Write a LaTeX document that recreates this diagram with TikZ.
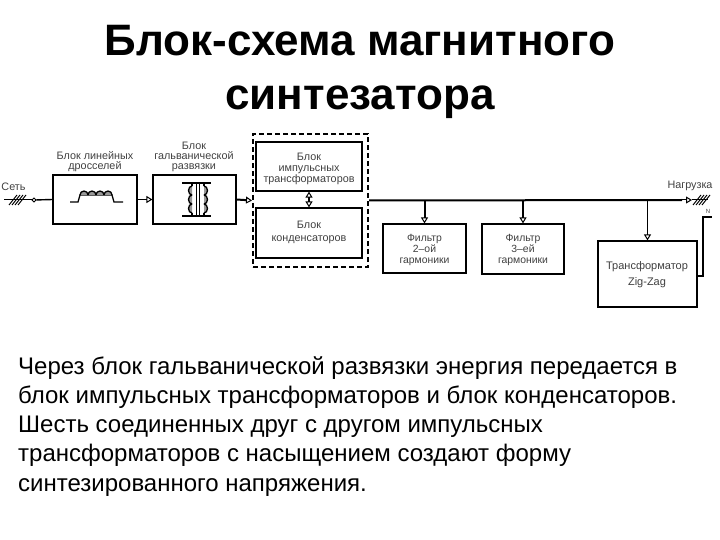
\documentclass[tikz,border=0pt]{standalone}
\usepackage{fontspec}
\setmainfont{Liberation Sans}
\usetikzlibrary{arrows.meta}
\tikzset{
  blockbox/.style={draw=black,line width=1.2pt,fill=white},
  labeltext/.style={font=\fontsize{10.8}{10}\selectfont,text=black!75,align=center,inner sep=0pt},
  thinwire/.style={draw=black,line width=1pt},
  thickwire/.style={draw=black,line width=2pt},
  opentip/.style={-{Triangle[open,length=6pt,width=7pt,line width=1pt]}},
  coilline/.style={draw=black,line width=1.3pt}
}
\begin{document}
\begin{tikzpicture}[x=1pt,y=-1pt]
      \useasboundingbox (0,0) rectangle (720,540);
      \fill[white] (0,0) rectangle (720,540);
      \node (title) [align=center,font=\fontsize{44}{54}\selectfont\bfseries,inner sep=0pt] at (360,72) {Блок-схема магнитного\\синтезатора};
      \node (body) [align=left,anchor=north west,font=\fontsize{24}{29.3}\selectfont,inner sep=0pt] at (18,356) {Через блок гальванической развязки энергия передается в\\блок импульсных трансформаторов и блок конденсаторов.\\Шесть соединенных друг с другом импульсных\\трансформаторов с насыщением создают форму\\синтезированного напряжения.};
      % blocks
      \node (choke) [blockbox,minimum width=84,minimum height=49] at (95,199.5) {};
      \node (galv) [blockbox,minimum width=83,minimum height=49] at (194.5,199.5) {};
      \node (store) [draw=black,line width=2pt,dash pattern=on 5pt off 3pt,minimum width=115,minimum height=133] at (310.5,200.5) {};
      \node (pulse) [blockbox,minimum width=106,minimum height=49] at (309,166.5) {};
      \node (caps) [blockbox,minimum width=106,minimum height=50] at (309,233) {};
      \node (fltb) [blockbox,minimum width=83,minimum height=49] at (424.5,248.5) {};
      \node (fltc) [blockbox,minimum width=82,minimum height=50] at (523,249) {};
      \node (zigzag) [blockbox,minimum width=99,minimum height=66] at (647.5,274) {};
      % labels
      \node (chokelabel) [labeltext] at (95,162) {Блок линейных\\дросселей};
      \node (galvlabel) [labeltext] at (194,156.5) {Блок\\гальванической\\развязки};
      \node (pulselabel) [labeltext,font=\fontsize{10.8}{11}\selectfont] at (309,168.5) {Блок\\импульсных\\трансформаторов};
      \node (capslabel) [labeltext] at (309,225) {Блок};
      \node (capslabelb) [labeltext] at (309,240) {конденсаторов};
      \node (fltblabel) [labeltext,font=\fontsize{10.4}{11.2}\selectfont] at (424.5,250) {Фильтр\\2--ой\\гармоники};
      \node (fltclabel) [labeltext,font=\fontsize{10.4}{11.2}\selectfont] at (523,250) {Фильтр\\3--ей\\гармоники};
      \node (zigzaglabel) [labeltext,font=\fontsize{11}{16}\selectfont] at (647,275) {Трансформатор\\Zig-Zag};
      \node (netlabel) [labeltext] at (13.5,187) {Сеть};
      \node (loadlabel) [labeltext] at (690,186) {Нагрузка};
      \node (nlabel) [labeltext,font=\fontsize{6}{6}\selectfont] at (708,211) {N};
      % input line
      \coordinate (netin) at (4,200);
      \node (netpin) [draw=black,fill=white,circle,line width=0.8pt,inner sep=1.4pt] at (34,200) {};
      \draw[thinwire] (netin) -- (netpin);
      \draw[thickwire,line width=1.4pt] (netpin) -- (choke.west);
      \foreach \x in {13,16,19,22} {
        \draw[thinwire] (\x-4,205) -- (\x+4,195);
      }
      % connections
      \draw[thinwire,opentip] (choke.east) -- (galv.west);
      \draw[thickwire,-{Triangle[open,length=6pt,width=7pt,line width=1pt]}] (galv.east) -- (store.west);
      \draw[thickwire,{Triangle[open,length=6pt,width=7pt,line width=1pt]}-{Triangle[open,length=6pt,width=7pt,line width=1pt]}] (pulse.south) -- (caps.north);
      \coordinate (loadend) at (692,200);
      \coordinate (loadbus) at (682,200);
      \draw[thickwire] (store.east) -- (loadbus);
      \draw[thinwire,opentip] (loadbus) -- (loadend);
      \coordinate (loadout) at (708,200);
      \draw[thinwire] (loadend) -- (loadout);
      \foreach \x in {697,700,703,706} {
        \draw[thinwire] (\x-4,205) -- (\x+4,195);
      }
      \draw[thickwire,opentip] (store.east -| fltb.north) -- (fltb.north);
      \draw[thickwire,opentip] (store.east -| fltc.north) -- (fltc.north);
      \draw[thinwire,line width=1.3pt,opentip] (store.east -| zigzag.north) -- (zigzag.north);
      \coordinate (nwire) at (712,217);
      \draw[thickwire,line width=1.5pt] (zigzag.east |- 0,276) -| (703,217) -- (nwire);
      % choke symbol
      \draw[coilline] (70,202) -- (78,202) -- (80,195) -- (112,195) -- (114,202) -- (123,202);
      \foreach \x in {80,88,96,104} {
        \draw[coilline,fill=black!40] (\x,195) arc (180:360:4 and 4);
      }
      % transformer symbol
      \draw[coilline] (182,183) -- (211,183);
      \draw[coilline] (182,216) -- (211,216);
      \draw[coilline] (196.5,183) -- (196.5,216);
      \draw[coilline] (199.5,183) -- (199.5,216);
      \foreach \y in {186,195,204} {
        \draw[coilline,fill=black!40] (192,\y) arc (-90:90:-3.5 and 4.5);
        \draw[coilline,fill=black!40] (204,\y) arc (-90:90:3.5 and 4.5);
      }
      \draw[coilline] (192,183) -- (192,186);
      \draw[coilline] (192,213) -- (192,216);
      \draw[coilline] (204,183) -- (204,186);
      \draw[coilline] (204,213) -- (204,216);
    \end{tikzpicture}
\end{document}
